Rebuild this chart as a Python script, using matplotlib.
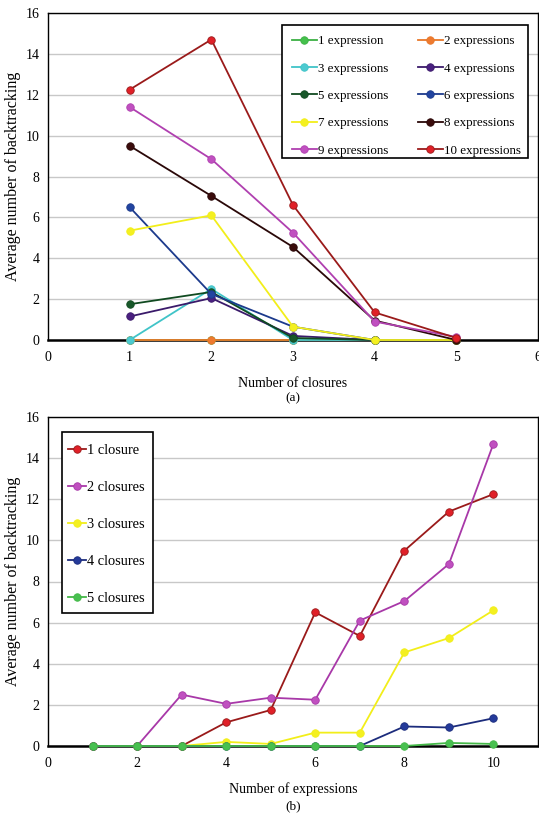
import matplotlib
matplotlib.use("Agg")
import matplotlib.pyplot as plt
from matplotlib.patches import Rectangle

plt.rcParams['font.family'] = ['Liberation Serif', 'DejaVu Serif']

# ---------------- data ----------------
closures = [1, 2, 3, 4, 5]
expr_labels = ["1 expression", "2 expressions", "3 expressions", "4 expressions",
               "5 expressions", "6 expressions", "7 expressions", "8 expressions",
               "9 expressions", "10 expressions"]
expr1 = [0, 0, 0, 0, 0]
expr2 = [0, 0, 0, 0, 0]
expr3 = [0, 2.5, 0, 0, 0]
expr4 = [1.15, 2.05, 0.2, 0, 0]
expr5 = [1.75, 2.35, 0.1, 0, 0]
expr6 = [6.5, 2.25, 0.65, 0, 0]
expr7 = [5.35, 6.1, 0.65, 0, 0]
expr8 = [9.5, 7.05, 4.55, 0.95, 0]
expr9 = [11.4, 8.85, 5.25, 0.9, 0.15]
expr10 = [12.25, 14.7, 6.6, 1.35, 0.1]

expressions = [1, 2, 3, 4, 5, 6, 7, 8, 9, 10]
clos_labels = ["1 closure", "2 closures", "3 closures", "4 closures", "5 closures"]
clos1 = [0, 0, 0, 1.15, 1.75, 6.5, 5.35, 9.5, 11.4, 12.25]
clos2 = [0, 0, 2.5, 2.05, 2.35, 2.25, 6.1, 7.05, 8.85, 14.7]
clos3 = [0, 0, 0, 0.2, 0.1, 0.65, 0.65, 4.55, 5.25, 6.6]
clos4 = [0, 0, 0, 0, 0, 0, 0, 0.95, 0.9, 1.35]
clos5 = [0, 0, 0, 0, 0, 0, 0, 0, 0.15, 0.1]

yticks = [0, 2, 4, 6, 8, 10, 12, 14, 16]
xticks_a = [0, 1, 2, 3, 4, 5, 6]
xticks_b = [0, 2, 4, 6, 8, 10]

# ---------------- styles ----------------
expr_series = [expr1, expr2, expr3, expr4, expr5, expr6, expr7, expr8, expr9, expr10]
expr_line = ['#3cb043', '#e8782a', '#40c4c8', '#3a1a6a', '#104a20', '#1c3a8c',
             '#f2ee1a', '#2a0808', '#b040b0', '#9a1a1a']
expr_mark = ['#44c04c', '#ee7a30', '#4ccad0', '#4a2080', '#18582a', '#2244a0',
             '#f4f020', '#3a0c0c', '#c050c0', '#e02028']

clos_series = [clos1, clos2, clos3, clos4, clos5]
clos_line = ['#9a1a1a', '#a838a8', '#f2ee1a', '#1c2c7c', '#44b848']
clos_mark = ['#e02028', '#c050c0', '#f4f020', '#243a9a', '#48c050']

W, H = 539, 816
fig = plt.figure(figsize=(W / 100, H / 100), dpi=100)

def fx(px):
    return px / W

def fy(py):
    return 1 - py / H

ax1 = fig.add_axes([fx(48), fy(340), fx(538) - fx(48), fy(13) - fy(340)])
ax2 = fig.add_axes([fx(48), fy(746), fx(538) - fx(48), fy(417) - fy(746)])

def style_axes(ax, xticks, xlim):
    ax.set_ylim(0, 16)
    ax.set_xlim(*xlim)
    ax.set_yticks(yticks)
    ax.set_xticks(xticks)
    ax.tick_params(length=0, labelsize=10, pad=6)
    ax.tick_params(axis='x', pad=8)
    ax.grid(axis='y', color='#c8c8c8', linewidth=1.0)
    ax.set_axisbelow(True)
    for s in ['left', 'right', 'top']:
        ax.spines[s].set_linewidth(1.0)
        ax.spines[s].set_color('black')
    ax.spines['bottom'].set_linewidth(1.8)
    ax.spines['bottom'].set_zorder(1.5)
    ax.set_ylabel("Average number of backtracking", fontsize=11.5)
    ax.yaxis.set_label_coords(-0.056, 0.5)

style_axes(ax1, xticks_a, (0, 6))
style_axes(ax2, xticks_b, (0, 11))

handles1 = []
for i, (ys, lab) in enumerate(zip(expr_series, expr_labels)):
    h, = ax1.plot(closures, ys, color=expr_line[i], lw=1.3, marker='o', ms=5.4,
                  markerfacecolor=expr_mark[i], markeredgecolor=expr_line[i],
                  markeredgewidth=0.6, label=lab, zorder=3 + i * 0.1, clip_on=False)
    handles1.append(h)

handles2 = []
for i, (ys, lab) in enumerate(zip(clos_series, clos_labels)):
    h, = ax2.plot(expressions, ys, color=clos_line[i], lw=1.3, marker='o', ms=5.4,
                  markerfacecolor=clos_mark[i], markeredgecolor=clos_line[i],
                  markeredgewidth=0.6, label=lab, zorder=3 + i * 0.1, clip_on=False)
    handles2.append(h)

ax1.set_xlabel("Number of closures", fontsize=10, labelpad=9)
ax2.set_xlabel("Number of expressions", fontsize=10, labelpad=9)
fig.text(fx(293), fy(398), "(a)", ha='center', va='center', fontsize=9.5)
fig.text(fx(293), fy(806), "(b)", ha='center', va='center', fontsize=9.5)

# legend frames drawn as rectangles (figure pixel positions)
def frame(x0, y0, x1, y1):
    r = Rectangle((fx(x0), fy(y1)), fx(x1) - fx(x0), fy(y0) - fy(y1),
                  transform=fig.transFigure, facecolor='white', edgecolor='black',
                  linewidth=1.2, zorder=10)
    fig.add_artist(r)

frame(282, 25, 528, 158)
frame(62, 432, 153, 613)

# legend (a): 2 columns, row-major order
order = [0, 2, 4, 6, 8, 1, 3, 5, 7, 9]
leg1 = fig.legend([handles1[k] for k in order], [expr_labels[k] for k in order],
                  ncol=2, loc='upper left',
                  bbox_to_anchor=(fx(292), fy(35)),
                  fontsize=9.4, frameon=False, handlelength=1.9,
                  handletextpad=0.1, labelspacing=1.17, columnspacing=2.25,
                  borderpad=0, borderaxespad=0)
leg1.set_zorder(11)

leg2 = fig.legend(handles2, clos_labels, loc='upper left',
                  bbox_to_anchor=(fx(68), fy(444)),
                  fontsize=10.4, frameon=False, handlelength=1.25,
                  handletextpad=0.05, labelspacing=1.65, borderpad=0,
                  borderaxespad=0)
leg2.set_zorder(11)

fig.savefig("out.png", dpi=100)
